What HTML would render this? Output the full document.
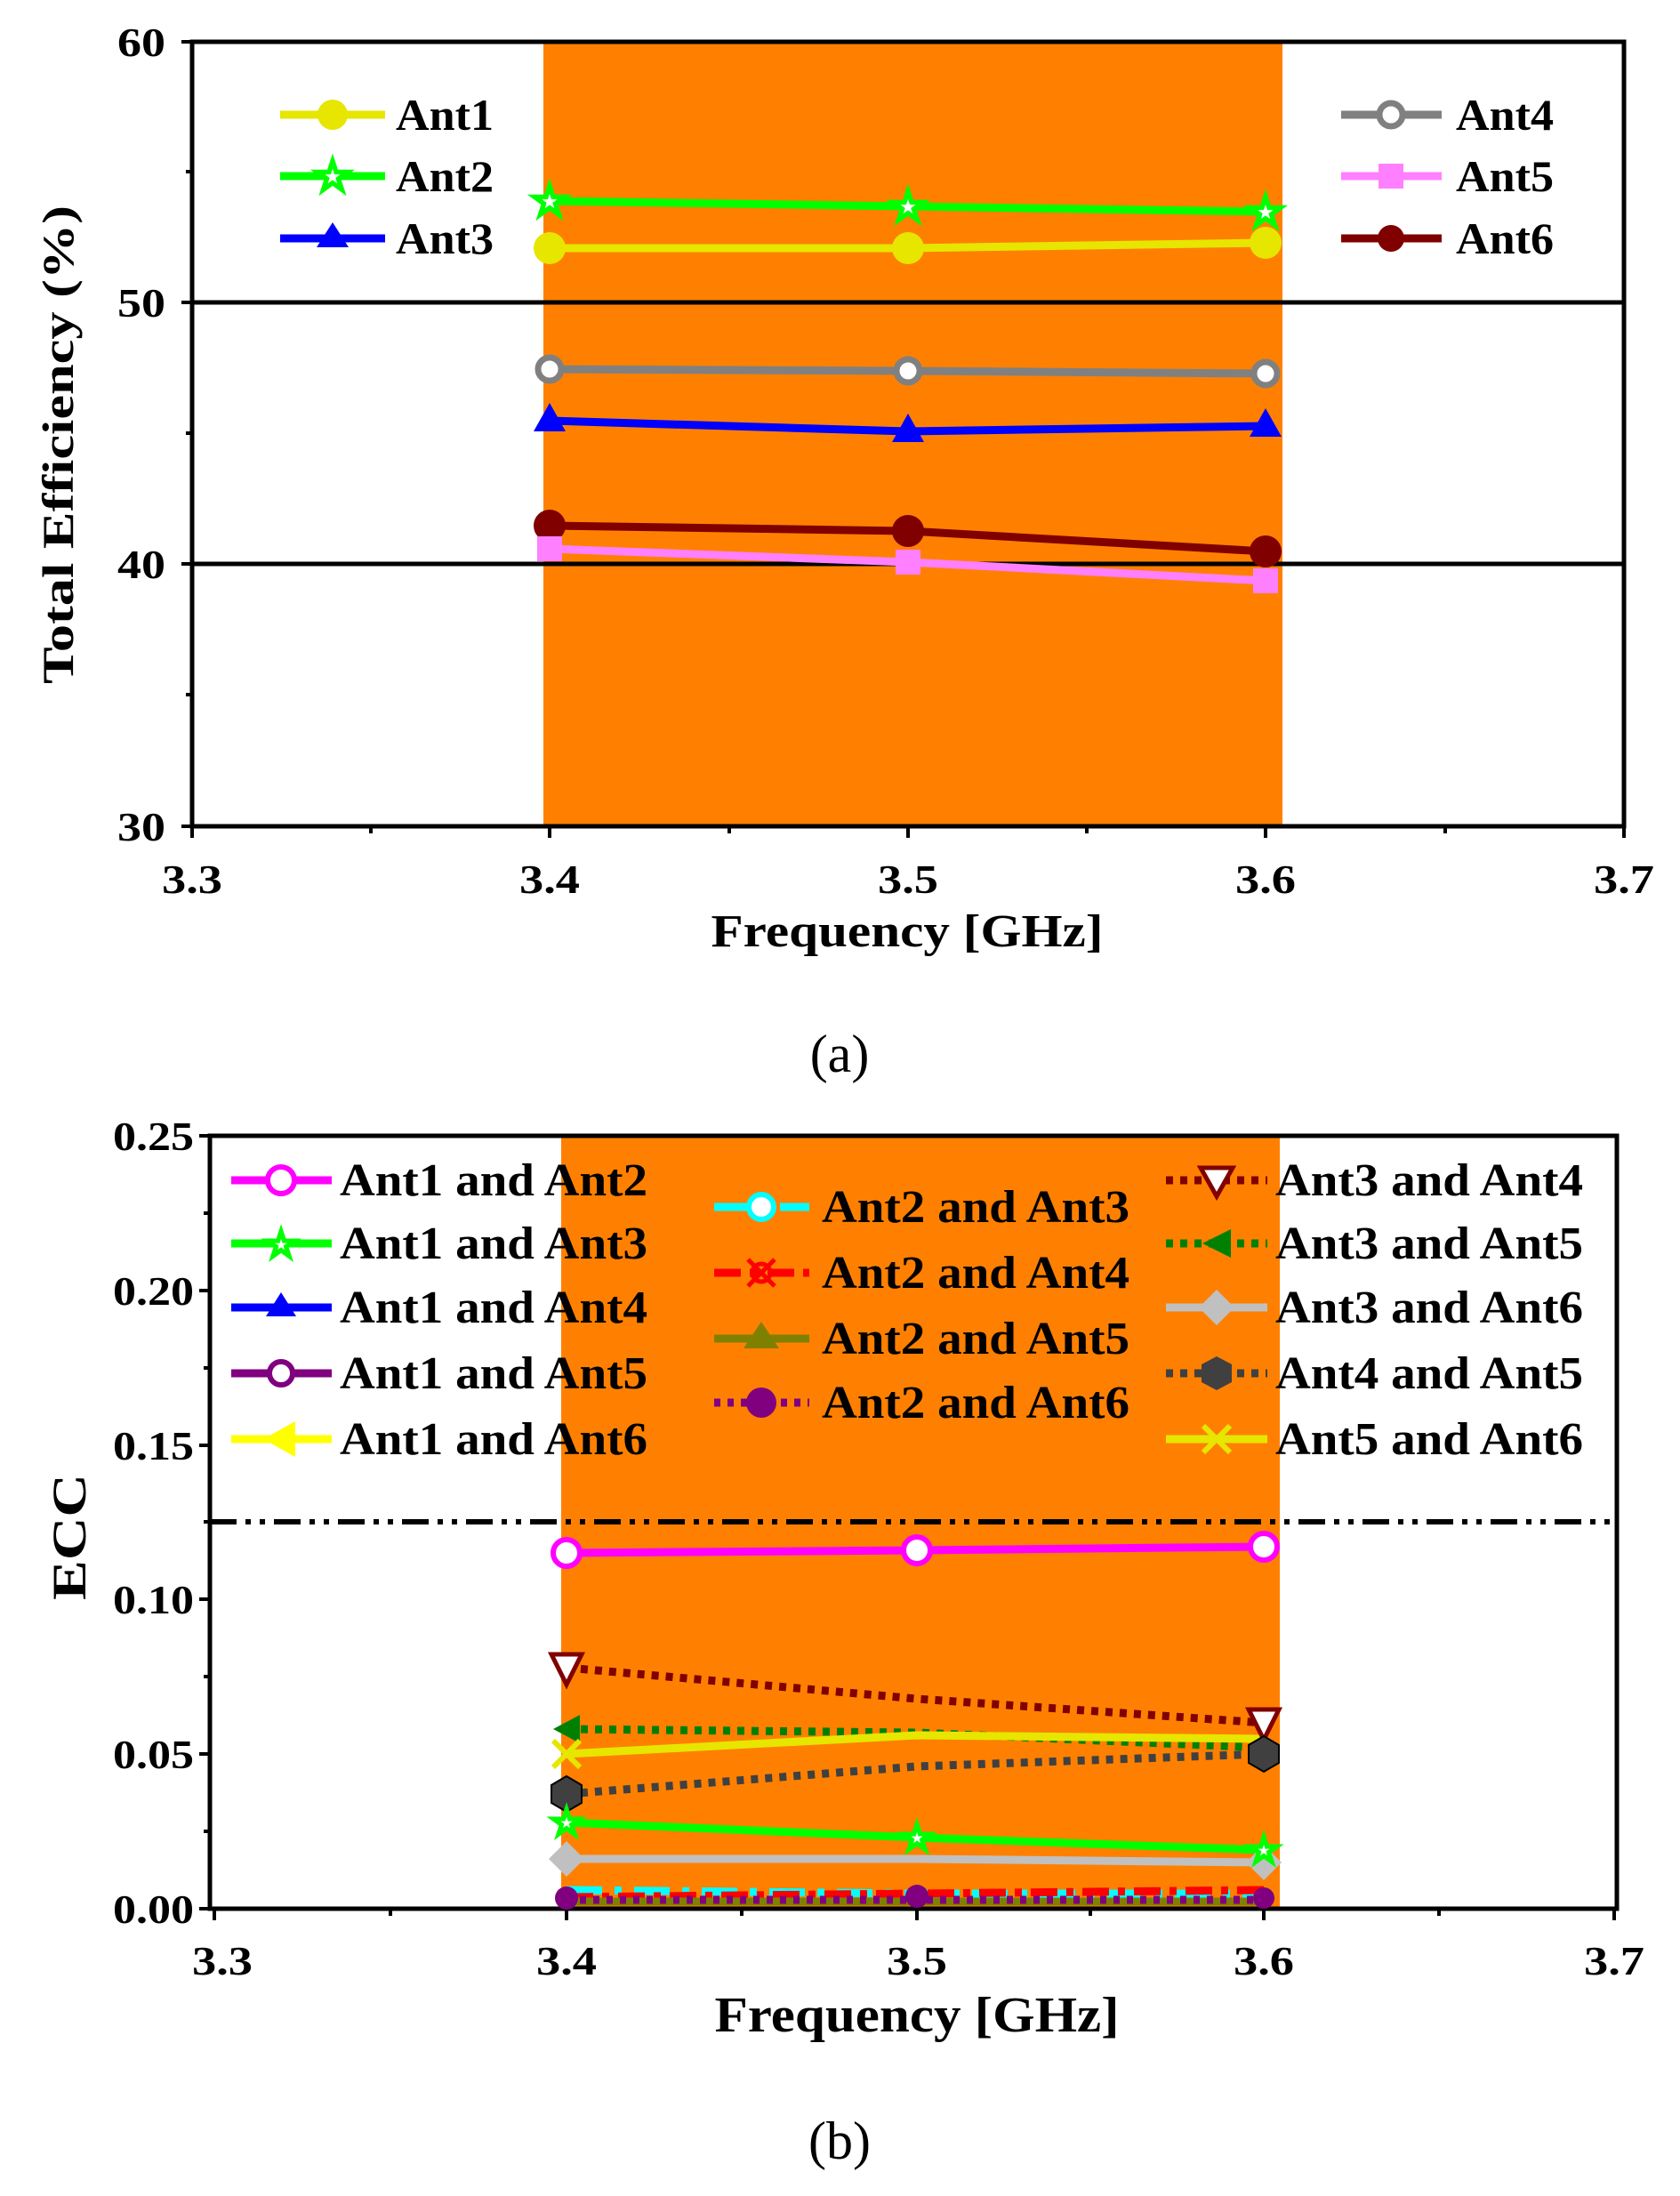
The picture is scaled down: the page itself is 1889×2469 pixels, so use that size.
<!DOCTYPE html>
<html><head><meta charset="utf-8"><style>
html,body{margin:0;padding:0;background:#fff}
svg{display:block}
text{font-family:"Liberation Serif",serif;font-weight:bold;fill:#000}
</style></head><body>
<svg width="1889" height="2469" viewBox="0 0 1889 2469" xmlns="http://www.w3.org/2000/svg">
<!-- ===== Chart A ===== -->
<rect x="611" y="47" width="831" height="882" fill="#ff8000"/>
<line x1="216" y1="340" x2="1826" y2="340" stroke="#000" stroke-width="5"/>
<line x1="216" y1="634" x2="1826" y2="634" stroke="#000" stroke-width="5"/>
<rect x="216" y="47" width="1610" height="882" fill="none" stroke="#000" stroke-width="5"/>
<g stroke="#000" stroke-width="4">
<line x1="216" y1="47" x2="204" y2="47"/><line x1="216" y1="340" x2="204" y2="340"/><line x1="216" y1="634" x2="204" y2="634"/><line x1="216" y1="929" x2="204" y2="929"/>
<line x1="216" y1="193" x2="209" y2="193"/><line x1="216" y1="487" x2="209" y2="487"/><line x1="216" y1="781" x2="209" y2="781"/>
<line x1="216" y1="929" x2="216" y2="942"/><line x1="618" y1="929" x2="618" y2="942"/><line x1="1021" y1="929" x2="1021" y2="942"/><line x1="1423" y1="929" x2="1423" y2="942"/><line x1="1826" y1="929" x2="1826" y2="942"/>
<line x1="417" y1="929" x2="417" y2="937"/><line x1="820" y1="929" x2="820" y2="937"/><line x1="1222" y1="929" x2="1222" y2="937"/><line x1="1625" y1="929" x2="1625" y2="937"/>
</g>
<g font-size="46" text-anchor="end">
<text x="186" y="63" textLength="54" lengthAdjust="spacingAndGlyphs">60</text><text x="186" y="356" textLength="54" lengthAdjust="spacingAndGlyphs">50</text><text x="186" y="650" textLength="54" lengthAdjust="spacingAndGlyphs">40</text><text x="186" y="945" textLength="54" lengthAdjust="spacingAndGlyphs">30</text>
</g>
<g font-size="46" text-anchor="middle">
<text x="216" y="1004" textLength="68" lengthAdjust="spacingAndGlyphs">3.3</text><text x="618" y="1004" textLength="68" lengthAdjust="spacingAndGlyphs">3.4</text><text x="1021" y="1004" textLength="68" lengthAdjust="spacingAndGlyphs">3.5</text><text x="1423" y="1004" textLength="68" lengthAdjust="spacingAndGlyphs">3.6</text><text x="1826" y="1004" textLength="68" lengthAdjust="spacingAndGlyphs">3.7</text>
</g>
<text x="1020" y="1064" font-size="52" text-anchor="middle" textLength="441" lengthAdjust="spacingAndGlyphs">Frequency [GHz]</text>
<text transform="translate(82,500) rotate(-90)" font-size="50" text-anchor="middle" textLength="538" lengthAdjust="spacingAndGlyphs">Total Efficiency (%)</text>
<!-- series -->
<g stroke-width="9" fill="none">
<polyline points="618,226 1021,232 1423,238" stroke="#00ff00"/>
<polyline points="618,279 1021,279 1423,273" stroke="#e6e600"/>
<polyline points="618,415 1021,417 1423,420" stroke="#808080"/>
<polyline points="618,473 1021,485 1423,479" stroke="#0000ff"/>
<polyline points="618,591 1021,597 1423,620" stroke="#800000"/>
<polyline points="618,617 1021,632 1423,653" stroke="#ff80ff"/>
</g>
<g fill="#e6e600"><circle cx="618" cy="279" r="18"/><circle cx="1021" cy="279" r="18"/><circle cx="1423" cy="273" r="18"/></g>
<g fill="#fff" stroke="#808080" stroke-width="7"><circle cx="618" cy="415" r="13"/><circle cx="1021" cy="417" r="13"/><circle cx="1423" cy="420" r="13"/></g>
<g fill="#0000ff"><polygon points="618,453 636,485 600,485"/><polygon points="1021,465 1039,497 1003,497"/><polygon points="1423,459 1441,491 1405,491"/></g>
<g fill="#800000" stroke="#800000" stroke-width="4"><circle cx="618" cy="591" r="16"/><circle cx="1021" cy="597" r="16"/><circle cx="1423" cy="620" r="16"/></g>
<g fill="#ff80ff"><rect x="604" y="603" width="28" height="28"/><rect x="1007" y="618" width="28" height="28"/><rect x="1409" y="639" width="28" height="28"/></g>
<text x="618" y="241" font-size="44" text-anchor="middle" style="fill:#fff;stroke:#00ff00;stroke-width:4">★</text><text x="1021" y="247" font-size="44" text-anchor="middle" style="fill:#fff;stroke:#00ff00;stroke-width:4">★</text><text x="1423" y="253" font-size="44" text-anchor="middle" style="fill:#fff;stroke:#00ff00;stroke-width:4">★</text>
<!-- legend A -->
<g stroke-width="9">
<line x1="315" y1="129" x2="433" y2="129" stroke="#e6e600"/><circle cx="374" cy="129" r="17" fill="#e6e600"/>
<line x1="315" y1="198" x2="433" y2="198" stroke="#00ff00"/>
<line x1="315" y1="268" x2="433" y2="268" stroke="#0000ff"/><polygon points="374,250 392,278 356,278" fill="#0000ff" stroke="none"/>
<line x1="1508" y1="129" x2="1621" y2="129" stroke="#808080"/><circle cx="1564" cy="129" r="13" fill="#fff" stroke="#808080" stroke-width="7"/>
<line x1="1508" y1="198" x2="1621" y2="198" stroke="#ff80ff"/><rect x="1550" y="184" width="28" height="28" fill="#ff80ff" stroke="none"/>
<line x1="1508" y1="268" x2="1621" y2="268" stroke="#800000"/><circle cx="1564" cy="268" r="15" fill="#800000"/>
</g>
<text x="374" y="213" font-size="44" text-anchor="middle" style="fill:#fff;stroke:#00ff00;stroke-width:4">★</text>
<g font-size="50">
<text x="445" y="146" textLength="110" lengthAdjust="spacingAndGlyphs">Ant1</text><text x="445" y="215" textLength="110" lengthAdjust="spacingAndGlyphs">Ant2</text><text x="445" y="285" textLength="110" lengthAdjust="spacingAndGlyphs">Ant3</text>
<text x="1637" y="146" textLength="110" lengthAdjust="spacingAndGlyphs">Ant4</text><text x="1637" y="215" textLength="110" lengthAdjust="spacingAndGlyphs">Ant5</text><text x="1637" y="285" textLength="110" lengthAdjust="spacingAndGlyphs">Ant6</text>
</g>
<text x="944" y="1205" font-size="60" text-anchor="middle" style="font-weight:normal">(a)</text>

<!-- ===== Chart B ===== -->
<rect x="631" y="1277" width="808" height="869" fill="#ff8000"/>
<line x1="236" y1="1711" x2="1818" y2="1711" stroke="#000" stroke-width="6" stroke-dasharray="30,10,6,10,6,10"/>
<rect x="236" y="1277" width="1582" height="869" fill="none" stroke="#000" stroke-width="5"/>
<g stroke="#000" stroke-width="4">
<line x1="236" y1="1277" x2="224" y2="1277"/><line x1="236" y1="1451" x2="224" y2="1451"/><line x1="236" y1="1625" x2="224" y2="1625"/><line x1="236" y1="1798" x2="224" y2="1798"/><line x1="236" y1="1972" x2="224" y2="1972"/><line x1="236" y1="2146" x2="224" y2="2146"/>
<line x1="236" y1="1364" x2="229" y2="1364"/><line x1="236" y1="1538" x2="229" y2="1538"/><line x1="236" y1="1711" x2="229" y2="1711"/><line x1="236" y1="1885" x2="229" y2="1885"/><line x1="236" y1="2059" x2="229" y2="2059"/>
<line x1="241" y1="2146" x2="241" y2="2159"/><line x1="637" y1="2146" x2="637" y2="2159"/><line x1="1031" y1="2146" x2="1031" y2="2159"/><line x1="1421" y1="2146" x2="1421" y2="2159"/><line x1="1815" y1="2146" x2="1815" y2="2159"/>
<line x1="439" y1="2146" x2="439" y2="2154"/><line x1="834" y1="2146" x2="834" y2="2154"/><line x1="1226" y1="2146" x2="1226" y2="2154"/><line x1="1618" y1="2146" x2="1618" y2="2154"/>
</g>
<g font-size="46" text-anchor="end">
<text x="218" y="1293" textLength="91" lengthAdjust="spacingAndGlyphs">0.25</text><text x="218" y="1467" textLength="91" lengthAdjust="spacingAndGlyphs">0.20</text><text x="218" y="1641" textLength="91" lengthAdjust="spacingAndGlyphs">0.15</text><text x="218" y="1814" textLength="91" lengthAdjust="spacingAndGlyphs">0.10</text><text x="218" y="1988" textLength="91" lengthAdjust="spacingAndGlyphs">0.05</text><text x="218" y="2162" textLength="91" lengthAdjust="spacingAndGlyphs">0.00</text>
</g>
<g font-size="46" text-anchor="middle">
<text x="250" y="2220" textLength="68" lengthAdjust="spacingAndGlyphs">3.3</text><text x="637" y="2220" textLength="68" lengthAdjust="spacingAndGlyphs">3.4</text><text x="1031" y="2220" textLength="68" lengthAdjust="spacingAndGlyphs">3.5</text><text x="1421" y="2220" textLength="68" lengthAdjust="spacingAndGlyphs">3.6</text><text x="1815" y="2220" textLength="68" lengthAdjust="spacingAndGlyphs">3.7</text>
</g>
<text x="1031" y="2284" font-size="56" text-anchor="middle" textLength="455" lengthAdjust="spacingAndGlyphs">Frequency [GHz]</text>
<text transform="translate(96,1728) rotate(-90)" font-size="54" text-anchor="middle" textLength="142" lengthAdjust="spacingAndGlyphs">ECC</text>
<!-- series B -->
<g fill="none" stroke-width="9">
<polyline points="637,2125 1031,2129 1421,2129" stroke="#00ffff" stroke-dasharray="40,14,8,14"/>
<polyline points="637,2133 1031,2129 1421,2125" stroke="#ff0000" stroke-dasharray="30,10,8,10"/>
<polyline points="637,2138 1031,2138 1421,2138" stroke="#808000"/>
<polyline points="637,2136 1031,2136 1421,2136" stroke="#800080" stroke-dasharray="7,8"/>
<polyline points="637,2090 1031,2090 1421,2094" stroke="#c0c0c0"/>
<polyline points="637,2049 1031,2066 1421,2080" stroke="#00ff00"/>
<polyline points="637,2017 1031,1986 1421,1972" stroke="#404040" stroke-dasharray="8,8"/>
<polyline points="637,1944 1031,1948 1421,1965" stroke="#008000" stroke-dasharray="8,8"/>
<polyline points="637,1972 1031,1951 1421,1955" stroke="#e6e600"/>
<polyline points="637,1875 1031,1910 1421,1937" stroke="#800000" stroke-dasharray="8,8"/>
<polyline points="637,1746 1031,1743 1421,1739" stroke="#ff00ff"/>
</g>
<g fill="#fff" stroke="#ff00ff" stroke-width="6"><circle cx="637" cy="1746" r="15"/><circle cx="1031" cy="1743" r="15"/><circle cx="1421" cy="1739" r="15"/></g>
<g fill="#fff" stroke="#800000" stroke-width="5"><polygon points="620,1860 654,1860 637,1894"/><polygon points="1404,1922 1438,1922 1421,1956"/></g>
<g fill="#008000"><polygon points="622,1944 652,1928 652,1960"/></g>
<g fill="#404040" stroke="#000" stroke-width="2"><polygon points="637,1997 654,2007 654,2027 637,2037 620,2027 620,2007"/><polygon points="1421,1952 1438,1962 1438,1982 1421,1992 1404,1982 1404,1962"/></g>
<g stroke="#e6e600" stroke-width="6"><line x1="622" y1="1957" x2="652" y2="1987"/><line x1="652" y1="1957" x2="622" y2="1987"/></g>
<g fill="#c0c0c0"><polygon points="637,2070 657,2090 637,2110 617,2090"/><polygon points="1421,2074 1441,2094 1421,2114 1401,2094"/></g>
<text x="637" y="2062" font-size="38" text-anchor="middle" style="fill:#fff;stroke:#00ff00;stroke-width:4">★</text><text x="1031" y="2079" font-size="38" text-anchor="middle" style="fill:#fff;stroke:#00ff00;stroke-width:4">★</text><text x="1421" y="2093" font-size="38" text-anchor="middle" style="fill:#fff;stroke:#00ff00;stroke-width:4">★</text>
<g fill="#800080"><circle cx="637" cy="2134" r="13"/><circle cx="1031" cy="2132" r="13"/><circle cx="1421" cy="2134" r="12"/></g>
<!-- legend B -->
<g stroke-width="9" fill="none">
<line x1="260" y1="1327" x2="373" y2="1327" stroke="#ff00ff"/>
<line x1="260" y1="1398" x2="373" y2="1398" stroke="#00ff00"/>
<line x1="260" y1="1470" x2="373" y2="1470" stroke="#0000ff"/>
<line x1="260" y1="1544" x2="373" y2="1544" stroke="#800080"/>
<line x1="260" y1="1618" x2="373" y2="1618" stroke="#ffff00"/>
<line x1="803" y1="1357" x2="910" y2="1357" stroke="#00ffff" stroke-dasharray="40,12,10,12"/>
<line x1="803" y1="1431" x2="910" y2="1431" stroke="#ff0000" stroke-dasharray="30,10,10,10"/>
<line x1="803" y1="1505" x2="910" y2="1505" stroke="#808000"/>
<line x1="803" y1="1577" x2="910" y2="1577" stroke="#800080" stroke-dasharray="7,8"/>
<line x1="1311" y1="1327" x2="1425" y2="1327" stroke="#800000" stroke-dasharray="8,8"/>
<line x1="1311" y1="1398" x2="1425" y2="1398" stroke="#008000" stroke-dasharray="8,8"/>
<line x1="1311" y1="1470" x2="1425" y2="1470" stroke="#c0c0c0"/>
<line x1="1311" y1="1544" x2="1425" y2="1544" stroke="#404040" stroke-dasharray="8,8"/>
<line x1="1311" y1="1618" x2="1425" y2="1618" stroke="#e6e600"/>
</g>
<circle cx="316" cy="1327" r="15" fill="#fff" stroke="#ff00ff" stroke-width="6"/>
<text x="316" y="1412" font-size="38" text-anchor="middle" style="fill:#fff;stroke:#00ff00;stroke-width:4">★</text>
<polygon points="316,1453 333,1480 299,1480" fill="#0000ff"/>
<circle cx="316" cy="1544" r="13" fill="#fff" stroke="#800080" stroke-width="6"/>
<polygon points="296,1618 332,1598 332,1638" fill="#ffff00"/>
<circle cx="856" cy="1357" r="14" fill="#fff" stroke="#00ffff" stroke-width="6"/>
<g stroke="#ff0000" stroke-width="5"><line x1="841" y1="1416" x2="871" y2="1446"/><line x1="871" y1="1416" x2="841" y2="1446"/><circle cx="856" cy="1431" r="10" fill="none"/></g>
<polygon points="856,1486 876,1516 836,1516" fill="#808000"/>
<circle cx="856" cy="1577" r="17" fill="#800080"/>
<polygon points="1350,1313 1386,1313 1368,1345" fill="#fff" stroke="#800000" stroke-width="5"/>
<polygon points="1352,1398 1384,1382 1384,1414" fill="#008000"/>
<polygon points="1368,1450 1388,1470 1368,1490 1348,1470" fill="#c0c0c0"/>
<polygon points="1368,1525 1385,1534 1385,1554 1368,1563 1351,1554 1351,1534" fill="#404040"/>
<g stroke="#e6e600" stroke-width="6"><line x1="1353" y1="1603" x2="1383" y2="1633"/><line x1="1383" y1="1603" x2="1353" y2="1633"/></g>
<g font-size="52">
<text x="382" y="1344" textLength="346" lengthAdjust="spacingAndGlyphs">Ant1 and Ant2</text><text x="382" y="1415" textLength="346" lengthAdjust="spacingAndGlyphs">Ant1 and Ant3</text><text x="382" y="1487" textLength="346" lengthAdjust="spacingAndGlyphs">Ant1 and Ant4</text><text x="382" y="1561" textLength="346" lengthAdjust="spacingAndGlyphs">Ant1 and Ant5</text><text x="382" y="1635" textLength="346" lengthAdjust="spacingAndGlyphs">Ant1 and Ant6</text>
<text x="924" y="1374" textLength="346" lengthAdjust="spacingAndGlyphs">Ant2 and Ant3</text><text x="924" y="1448" textLength="346" lengthAdjust="spacingAndGlyphs">Ant2 and Ant4</text><text x="924" y="1522" textLength="346" lengthAdjust="spacingAndGlyphs">Ant2 and Ant5</text><text x="924" y="1594" textLength="346" lengthAdjust="spacingAndGlyphs">Ant2 and Ant6</text>
<text x="1434" y="1344" textLength="346" lengthAdjust="spacingAndGlyphs">Ant3 and Ant4</text><text x="1434" y="1415" textLength="346" lengthAdjust="spacingAndGlyphs">Ant3 and Ant5</text><text x="1434" y="1487" textLength="346" lengthAdjust="spacingAndGlyphs">Ant3 and Ant6</text><text x="1434" y="1561" textLength="346" lengthAdjust="spacingAndGlyphs">Ant4 and Ant5</text><text x="1434" y="1635" textLength="346" lengthAdjust="spacingAndGlyphs">Ant5 and Ant6</text>
</g>
<text x="944" y="2427" font-size="60" text-anchor="middle" style="font-weight:normal">(b)</text>
</svg>
</body></html>
